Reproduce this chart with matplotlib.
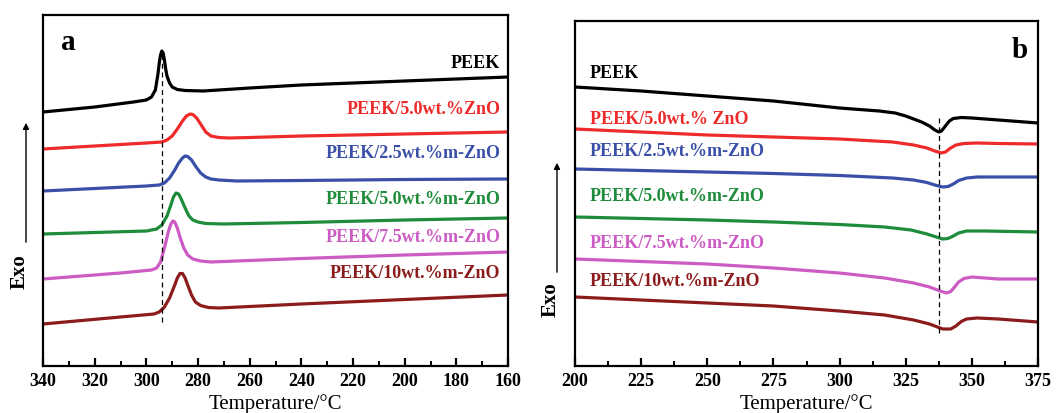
import matplotlib
matplotlib.use("Agg")
import matplotlib.pyplot as plt
from matplotlib.ticker import MultipleLocator

plt.rcParams['font.family'] = 'Liberation Serif'
plt.rcParams['font.weight'] = 'bold'

labels_a = ["PEEK", "PEEK/5.0wt.%ZnO", "PEEK/2.5wt.%m-ZnO",
            "PEEK/5.0wt.%m-ZnO", "PEEK/7.5wt.%m-ZnO", "PEEK/10wt.%m-ZnO"]
labels_b = ["PEEK", "PEEK/5.0wt.% ZnO", "PEEK/2.5wt.%m-ZnO",
            "PEEK/5.0wt.%m-ZnO", "PEEK/7.5wt.%m-ZnO", "PEEK/10wt.%m-ZnO"]
colors = ["#000000", "#ee2a2a", "#3a50a8", "#1e8c3a", "#cc5cc4", "#8c1c1c"]

# panel a: cooling curves (temperature, heat flow in arbitrary units)
a_peek_t = [340, 320, 305, 300, 298, 296.5, 295.5, 295, 294.5, 294, 293.5, 293, 292.5, 292, 291, 290, 288, 285, 278, 260, 240, 220, 200, 180, 160]
a_peek_y = [254, 259, 264, 266, 269, 276, 292, 303, 311, 315, 313, 306, 297, 290, 283, 279, 276.5, 275.5, 275, 278, 281, 283, 285, 287, 289]
a_zno_t = [340, 300, 294, 292, 290, 288, 286, 284.5, 283, 282, 280.5, 279, 277, 275, 272, 268, 260, 240, 200, 160]
a_zno_y = [217, 223, 224, 226, 230, 237, 245, 250, 252, 251.5, 248, 242, 234, 230, 228.5, 228, 228.5, 230, 232, 234]
a_m25_t = [340, 300, 295, 293, 291, 289, 287.5, 286, 285, 284, 282.5, 281, 279, 277, 275, 272, 265, 240, 200, 160]
a_m25_y = [175, 180, 181, 183, 188, 196, 203, 208, 210, 209.5, 206, 200, 193, 189, 187, 186, 185, 185.5, 186.5, 187]
a_m50_t = [340, 300, 296, 294, 292, 290.5, 289.5, 288.5, 287.5, 286.5, 285, 283.5, 282, 280, 277, 270, 240, 200, 160]
a_m50_y = [132, 135, 137, 141, 150, 161, 169, 173, 172, 167, 158, 150, 146, 144, 142.5, 142, 143.5, 146, 148]
a_m75_t = [340, 310, 298, 296, 294.5, 293, 291.5, 290.5, 289.7, 289, 288, 287, 285.5, 284, 282, 279, 275, 260, 240, 200, 160]
a_m75_y = [87, 93, 96, 98, 104, 118, 134, 142, 145, 144, 138, 129, 118, 111, 107, 105, 104, 105.5, 107.5, 111, 114]
a_m10_t = [340, 310, 297, 295, 293, 291, 289, 288, 287, 286, 285, 284, 282.5, 281, 279, 276, 272, 260, 240, 200, 160]
a_m10_y = [42, 49, 52, 54, 59, 68, 81, 88, 92.5, 92.5, 88, 81, 71, 64, 60.5, 58.5, 58, 59.5, 62, 66.5, 71]
a_line_t = 294

# panel b: heating curves
b_peek_t = [200, 225, 250, 275, 300, 315, 321, 325, 331, 334, 336, 337.5, 338.5, 340, 341.5, 343, 346, 350, 360, 375]
b_peek_y = [279, 275, 270, 265, 258, 255, 253, 250, 244, 240, 236, 234, 235, 240, 245, 247.5, 248.5, 248, 246, 243]
b_zno_t = [200, 225, 250, 275, 300, 320, 328, 333, 336, 338.5, 340, 342, 344, 347, 352, 360, 375]
b_zno_y = [237, 234, 231, 229, 227, 224, 221, 218, 215, 213, 214, 218, 221, 222.5, 223, 222.5, 222]
b_m25_t = [200, 225, 250, 275, 300, 320, 328, 333, 336, 339, 341, 343, 345, 348, 352, 375]
b_m25_y = [197, 195.5, 194, 192.5, 190.5, 188, 186, 183.5, 181, 179, 179.5, 182, 185.5, 188, 189, 189]
b_m50_t = [200, 225, 250, 275, 300, 317, 327, 333, 336, 339, 341, 343, 345, 348, 355, 375]
b_m50_y = [149, 147.5, 146, 144, 141.5, 139, 136, 132, 129.5, 127, 127.5, 130, 133, 135, 135, 134]
b_m75_t = [200, 225, 250, 275, 300, 317, 328, 334, 338, 340.5, 342, 343.5, 345, 347, 350, 360, 375]
b_m75_y = [107, 104.5, 102, 98, 93, 88, 83, 79, 75, 73, 74.5, 79, 84, 87.5, 89, 87, 87]
b_m10_t = [200, 225, 250, 275, 300, 317, 328, 334, 337, 339, 342, 344, 346, 348, 352, 360, 375]
b_m10_y = [69, 66, 63, 60, 55, 51, 46, 42, 39, 37, 37, 40, 44.5, 47, 48, 47, 44]
b_line_t = 337.5

a_series = [(a_peek_t, a_peek_y), (a_zno_t, a_zno_y), (a_m25_t, a_m25_y),
            (a_m50_t, a_m50_y), (a_m75_t, a_m75_y), (a_m10_t, a_m10_y)]
b_series = [(b_peek_t, b_peek_y), (b_zno_t, b_zno_y), (b_m25_t, b_m25_y),
            (b_m50_t, b_m50_y), (b_m75_t, b_m75_y), (b_m10_t, b_m10_y)]
a_label_y = [303, 256, 213, 166, 129, 93]
b_label_y = [293, 246, 214, 170, 123, 84]

fig = plt.figure(figsize=(10.64, 4.13), dpi=100)
ax1 = fig.add_axes([43/1064, 47/413, 465/1064, 351/413])
ax2 = fig.add_axes([575/1064, 47/413, 463/1064, 345/413])

for ax in (ax1, ax2):
    for s in ax.spines.values():
        s.set_linewidth(1.6)
    ax.set_yticks([])
    ax.tick_params(axis='x', which='major', direction='in', length=6, width=1.6,
                   labelsize=13, pad=5)
    ax.tick_params(axis='x', which='minor', direction='in', length=3.5, width=1.4)
    ax.set_xlabel("Temperature/°C", fontsize=15, labelpad=3)

# panel a
for (t, y), c in zip(a_series, colors):
    ax1.plot(t, y, color=c, lw=2.3)
ax1.plot([a_line_t, a_line_t], [44, 311], color='black', lw=0.9, ls=(0, (4, 3)))
for lab, ly, c in zip(labels_a, a_label_y, colors):
    ax1.text(163, ly, lab, color=c, fontsize=13, ha='right', va='center')
ax1.text(333, 324, "a", fontsize=21, ha='left', va='center')
ax1.set_xlim(340, 160)
ax1.set_ylim(0, 351)
ax1.xaxis.set_major_locator(MultipleLocator(20))
ax1.xaxis.set_minor_locator(MultipleLocator(10))

# panel b
for (t, y), c in zip(b_series, colors):
    ax2.plot(t, y, color=c, lw=2.3)
ax2.plot([b_line_t, b_line_t], [33, 249], color='black', lw=0.9, ls=(0, (4, 3)))
for lab, ly, c in zip(labels_b, b_label_y, colors):
    ax2.text(205.5, ly, lab, color=c, fontsize=13, ha='left', va='center')
ax2.text(368, 316, "b", fontsize=21, ha='center', va='center')
ax2.set_xlim(200, 375)
ax2.set_ylim(0, 345)
ax2.xaxis.set_major_locator(MultipleLocator(25))
ax2.xaxis.set_minor_locator(MultipleLocator(12.5))

# Exo arrows
for xa, y0, y1, ye in [(26, 245, 120, 272), (557, 275, 160, 300)]:
    fig.patches.append(matplotlib.patches.FancyArrowPatch(
        (xa/1064, 1 - y0/413), (xa/1064, 1 - y1/413), transform=fig.transFigure,
        arrowstyle='-|>', mutation_scale=9, lw=1.0, color='black'))
    fig.text((xa - 6)/1064, 1 - ye/413, "Exo", rotation=90, fontsize=15,
             ha='center', va='center')

fig.savefig("out.png", dpi=100)
